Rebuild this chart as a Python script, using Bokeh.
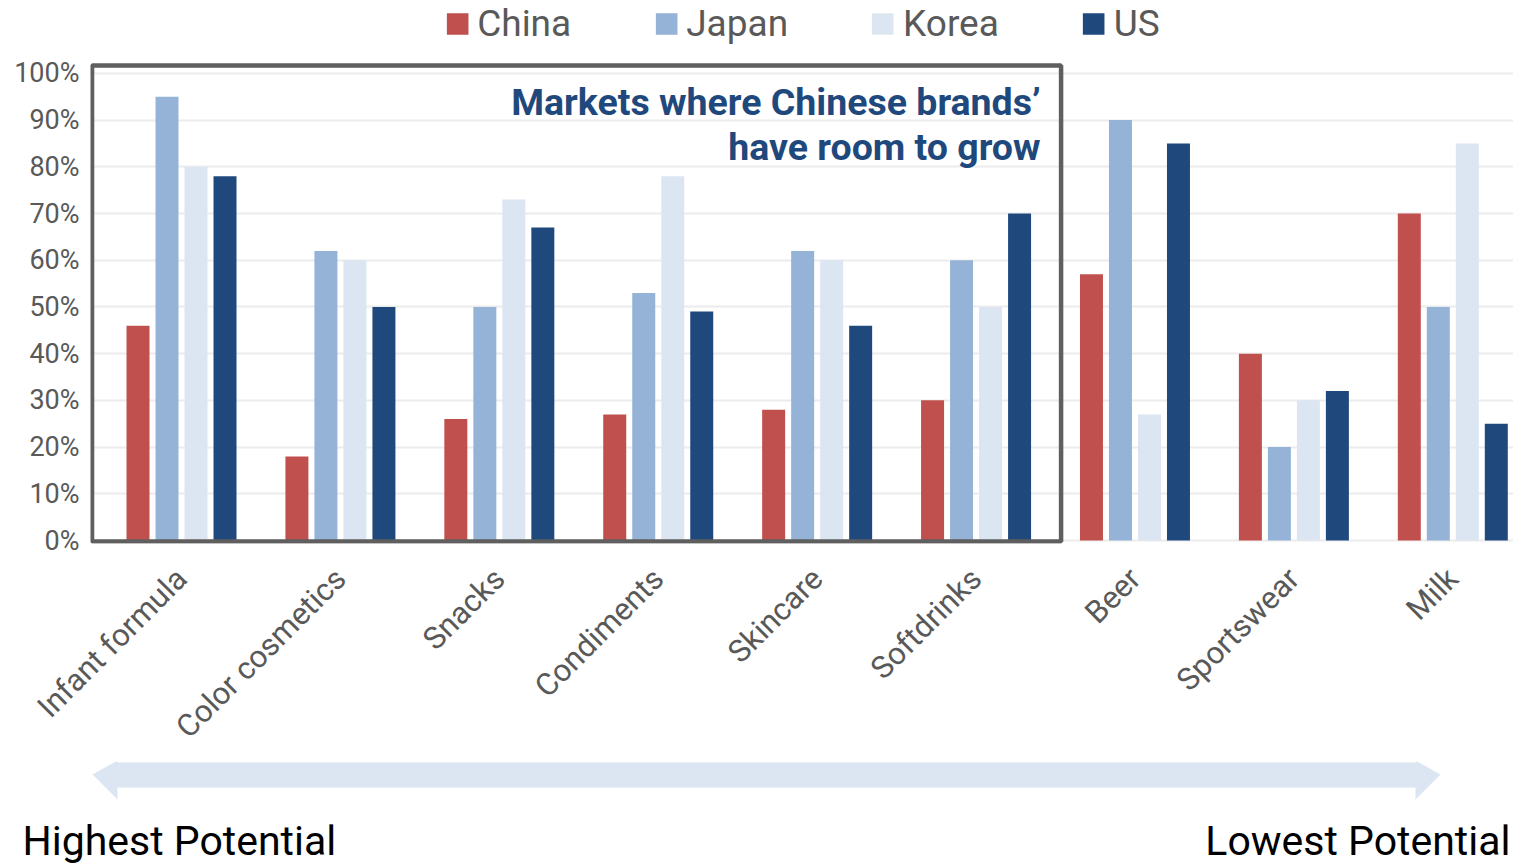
import math
from bokeh.plotting import figure
from bokeh.models import ColumnDataSource, FixedTicker, Label, Range1d
from bokeh.layouts import column, row
from bokeh.transform import dodge
from bokeh.embed import file_html
from bokeh.resources import INLINE

# ---------------- data ----------------
categories = ["Infant formula", "Color cosmetics", "Snacks", "Condiments", "Skincare",
              "Softdrinks", "Beer", "Sportswear", "Milk"]
china = [46, 18, 26, 27, 28, 30, 57, 40, 70]
japan = [95, 62, 50, 53, 62, 60, 90, 20, 50]
korea = [80, 60, 73, 78, 60, 50, 27, 30, 85]
us = [78, 50, 67, 49, 46, 70, 85, 32, 25]
series_names = ["China", "Japan", "Korea", "US"]
series_values = [china, japan, korea, us]
series_colors = ["#c0504d", "#95b3d7", "#dce6f2", "#1f497d"]
y_ticks = [0, 10, 20, 30, 40, 50, 60, 70, 80, 90, 100]
y_tick_labels = [f"{t}%" for t in y_ticks]
boxed_first, boxed_last = 0, 5
box_title = ["Markets where Chinese brands\u2019", "have room to grow"]
scale_left_text = "Highest Potential"
scale_right_text = "Lowest Potential"

FONT = "Roboto"
GREY = "#595959"

# ---------------- main chart ----------------
src = ColumnDataSource(dict(x=list(range(len(categories))),
                            **{n: v for n, v in zip(series_names, series_values)}))

p = figure(frame_width=1423, frame_height=543, output_backend="svg", toolbar_location=None,
           x_range=Range1d(-0.5727, 8.382), y_range=Range1d(-0.64, 115.6),
           min_border_left=90, min_border_right=0, min_border_top=0, min_border_bottom=202,
           background_fill_color="white", border_fill_color="white")
p.outline_line_color = None

pitch = 0.1825
bar_w = 0.1447
for i, (name, color) in enumerate(zip(series_names, series_colors)):
    p.vbar(x=dodge("x", (i - 1.5) * pitch), top=name, width=bar_w, bottom=0, source=src,
           fill_color=color, line_color=None, legend_label=name)

# y axis
p.yaxis.ticker = FixedTicker(ticks=y_ticks)
p.yaxis.major_label_overrides = {t: l for t, l in zip(y_ticks, y_tick_labels)}
p.yaxis.axis_line_color = None
p.yaxis.major_tick_line_color = None
p.yaxis.minor_tick_line_color = None
p.yaxis.major_tick_in = 0
p.yaxis.major_tick_out = 0
p.yaxis.major_label_standoff = 11
p.yaxis.major_label_text_font = FONT
p.yaxis.major_label_text_font_size = "27px"
p.yaxis.major_label_text_color = GREY

p.ygrid.ticker = FixedTicker(ticks=y_ticks)
p.ygrid.grid_line_color = "#ececec"
p.ygrid.grid_line_width = 2
p.xgrid.grid_line_color = None

# x axis
p.xaxis.ticker = FixedTicker(ticks=list(range(len(categories))))
p.xaxis.major_label_overrides = {i: c for i, c in enumerate(categories)}
p.xaxis.major_label_orientation = math.pi / 4
p.xaxis.axis_line_color = None
p.xaxis.major_tick_line_color = None
p.xaxis.minor_tick_line_color = None
p.xaxis.major_tick_in = 0
p.xaxis.major_tick_out = 0
p.xaxis.major_label_standoff = 30
p.xaxis.major_label_text_font = FONT
p.xaxis.major_label_text_font_size = "31px"
p.xaxis.major_label_text_color = GREY

# highlight box around the first six categories
p.quad(left=boxed_first - 0.563, right=boxed_last + 0.535, bottom=-0.2, top=101.7,
       fill_color=None, line_color="#5f5f5f", line_width=4.5)

for txt, yv in zip(box_title, [93.8, 84.2]):
    p.add_layout(Label(x=boxed_last + 0.406, y=yv, text=txt, text_align="right",
                       text_baseline="alphabetic", text_font=FONT, text_font_size="37.5px",
                       text_font_style="bold", text_color="#1f497d"))

# legend
lg = p.legend[0]
lg.location = "top"
lg.orientation = "horizontal"
lg.glyph_width = 27
lg.glyph_height = 27
lg.label_standoff = 7
lg.spacing = 81
lg.padding = 0
lg.margin = 2
lg.border_line_color = None
lg.background_fill_alpha = 0
lg.label_text_font = FONT
lg.label_text_font_size = "37px"
lg.label_text_color = GREY

# ---------------- potential scale ----------------
p2 = figure(width=1513, height=105, output_backend="svg", toolbar_location=None,
            x_range=Range1d(0, 1513), y_range=Range1d(0, 105),
            x_axis_type=None, y_axis_type=None, min_border=0,
            background_fill_color="white", border_fill_color="white")
p2.outline_line_color = None

tip_l, base_l, base_r, tip_r = 92, 117, 1415, 1440
tip_y, shaft_top, shaft_bot, head_top, head_bot = 92, 104, 79, 106, 67
p2.patch(x=[tip_l, base_l, base_l, base_r, base_r, tip_r, base_r, base_r, base_l, base_l],
         y=[tip_y, head_top, shaft_top, shaft_top, head_top, tip_y, head_bot, shaft_bot, shaft_bot, head_bot],
         fill_color="#dce6f2", line_color=None)

p2.add_layout(Label(x=22, y=26, text=scale_left_text, text_align="left", text_baseline="alphabetic",
                    text_font=FONT, text_font_size="41px", text_color="black"))
p2.add_layout(Label(x=1510, y=26, text=scale_right_text, text_align="right", text_baseline="alphabetic",
                    text_font=FONT, text_font_size="41px", text_color="black"))

layout = column(p, row(p2), spacing=0)
open("out.html", "w").write(file_html(layout, INLINE))
